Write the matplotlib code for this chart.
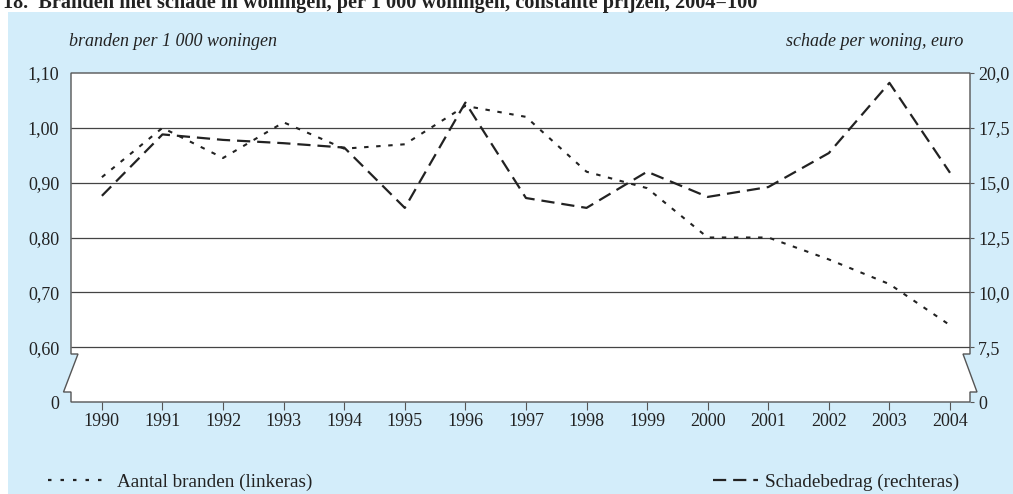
import matplotlib.pyplot as plt
from matplotlib.patches import Polygon, Rectangle
from matplotlib.lines import Line2D

plt.rcParams['font.family'] = 'Liberation Serif'
plt.rcParams['lines.scale_dashes'] = False

# data
jaren = list(range(1990, 2005))
branden = [0.91, 1.00, 0.945, 1.01, 0.962, 0.97, 1.04, 1.02, 0.92, 0.89,
           0.80, 0.80, 0.76, 0.715, 0.64]
schade = [14.4, 17.2, 16.95, 16.8, 16.6, 13.85, 18.65, 14.3, 13.85, 15.5,
          14.35, 14.8, 16.35, 19.55, 15.45]

links_ticks = [0.5, 0.6, 0.7, 0.8, 0.9, 1.0, 1.1]
links_labels = ['0', '0,60', '0,70', '0,80', '0,90', '1,00', '1,10']
rechts_ticks = [5, 7.5, 10, 12.5, 15, 17.5, 20]
rechts_labels = ['0', '7,5', '10,0', '12,5', '15,0', '17,5', '20,0']
grid_waarden = [0.6, 0.7, 0.8, 0.9, 1.0]

blauw = '#d3edfa'
inkt = '#222222'
rand = '#555555'
fs = 13
fs_leg = 13.8

W, H = 1013, 494
fig = plt.figure(figsize=(W / 100, H / 100), dpi=100)
fig.patch.set_facecolor('white')

# blauwe achtergrond
fig.add_artist(Rectangle((8 / W, 0), 1, (H - 12) / H, transform=fig.transFigure,
                         facecolor=blauw, edgecolor='none', zorder=-5))

ax_l, ax_b, ax_w, ax_h = 71, 402, 899, 329
ax = fig.add_axes([ax_l / W, (H - ax_b) / H, ax_w / W, ax_h / H])
ax.patch.set_visible(False)
for s in ax.spines.values():
    s.set_visible(False)

# witte plotruimte met asbreuk links en rechts
px = lambda x, y: (x / ax_w, y / ax_h)
vorm = [px(0, ax_h), px(0, 48), px(7, 48), px(-7.5, 10), px(0, 10), px(0, 0),
        px(ax_w, 0), px(ax_w, 10), px(ax_w + 7, 10), px(ax_w - 7, 48),
        px(ax_w, 48), px(ax_w, ax_h)]
ax.add_patch(Polygon(vorm, closed=True, transform=ax.transAxes, facecolor='white',
                     edgecolor=rand, lw=1.0, clip_on=False, zorder=0.5))

ax.hlines(grid_waarden, 1989.49, 2004.33, color='#444444', lw=0.9, zorder=1)

ax.plot(jaren, branden, color=inkt, lw=1.5, linestyle=(0, (3.2, 5.5)), zorder=3)
ax.set_xlim(1989.49, 2004.33)
ax.set_ylim(0.5, 1.1)
ax.set_yticks(links_ticks)
ax.set_yticklabels(links_labels)
ax.set_xticks(jaren)
ax.tick_params(axis='y', length=0, pad=8.5, labelsize=fs, labelcolor=inkt)
ax.tick_params(axis='x', direction='out', length=6, width=0.8, color=rand,
               pad=2, labelsize=fs, labelcolor=inkt)

ax2 = ax.twinx()
for s in ax2.spines.values():
    s.set_visible(False)
ax2.plot(jaren, schade, color=inkt, lw=1.6, linestyle=(0, (9.5, 5)), zorder=3)
ax2.set_ylim(5, 20)
ax2.set_yticks(rechts_ticks)
ax2.set_yticklabels(rechts_labels)
ax2.tick_params(axis='y', direction='out', length=3, width=0.8, color=rand,
                pad=3, labelsize=fs, labelcolor=inkt)

# titel en aslabels
fig.text(3 / W, 1 - 8 / H, '18.  Branden met schade in woningen, per 1 000 woningen, '
         'constante prijzen, 2004=100', fontsize=14.6, fontweight='bold',
         va='baseline', ha='left', color=inkt)
fig.text(69 / W, 1 - 46 / H, 'branden per 1 000 woningen', fontsize=fs,
         style='italic', va='baseline', ha='left', color=inkt)
fig.text(963 / W, 1 - 46 / H, 'schade per woning, euro', fontsize=fs,
         style='italic', va='baseline', ha='right', color=inkt)

# legenda
h1 = Line2D([], [], color=inkt, lw=1.6, linestyle=(0, (2.5, 6.5)))
h2 = Line2D([], [], color=inkt, lw=1.6, linestyle=(0, (9.5, 5)))
fs_px = fs_leg * 100 / 72
fig.legend(handles=[h1], labels=['Aantal branden (linkeras)'], loc='center left',
           bbox_to_anchor=(48 / W, 1 - 482 / H), frameon=False, fontsize=fs_leg,
           borderpad=0, borderaxespad=0, handlelength=62 / fs_px,
           handletextpad=7 / fs_px, labelcolor=inkt)
fig.legend(handles=[h2], labels=['Schadebedrag (rechteras)'], loc='center left',
           bbox_to_anchor=(713 / W, 1 - 482 / H), frameon=False, fontsize=fs_leg,
           borderpad=0, borderaxespad=0, handlelength=45 / fs_px,
           handletextpad=7 / fs_px, labelcolor=inkt)

fig.savefig('out.png', dpi=100)
